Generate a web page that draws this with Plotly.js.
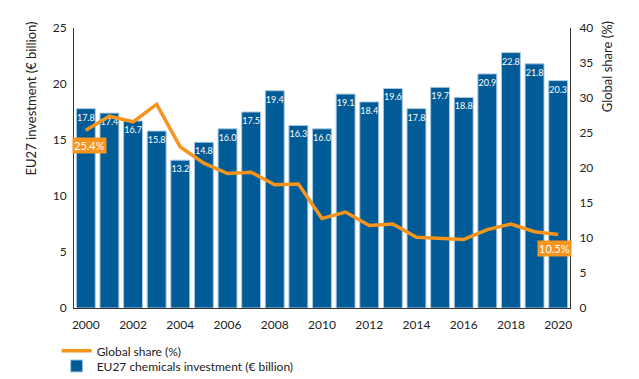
<!DOCTYPE html>
<html>
<head>
<meta charset="utf-8">
<script src="https://cdn.plot.ly/plotly-3.0.1.min.js"></script>
<style>html,body{margin:0;padding:0;background:#fff}#chart{width:639px;height:379px}</style>
</head>
<body>
<div id="chart"></div>
<script>
const years = [2000,2001,2002,2003,2004,2005,2006,2007,2008,2009,2010,2011,2012,2013,2014,2015,2016,2017,2018,2019,2020];
const investment = [17.8,17.4,16.7,15.8,13.2,14.8,16.0,17.5,19.4,16.3,16.0,19.1,18.4,19.6,17.8,19.7,18.8,20.9,22.8,21.8,20.3];
const globalShare = [25.4,27.4,26.6,29.1,23.0,20.7,19.2,19.4,17.6,17.7,12.8,13.7,11.8,12.0,10.1,10.0,9.8,11.2,12.0,10.9,10.5];
const xTicks = [2000,2002,2004,2006,2008,2010,2012,2014,2016,2018,2020];
const leftTicks = [0,5,10,15,20,25];
const rightTicks = [0,5,10,15,20,25,30,35,40];

const BLUE = '#005b96';
const ORANGE = '#f7941d';
const FONT = 'Lato, "Open Sans", sans-serif';

const barTrace = {
  type: 'bar', x: years, y: investment, name: 'EU27 chemicals investment (€ billion)',
  marker: {color: BLUE, line: {color: '#a9c8e3', width: 1}},
  text: investment.map(v => v.toFixed(1)),
  textposition: 'inside', insidetextanchor: 'end', textangle: 0, constraintext: 'none',
  textfont: {family: 'Lato, sans-serif', size: 9, color: '#ffffff'},
  hoverinfo: 'skip', legend: 'legend2'
};
const lineTrace = {
  type: 'scatter', mode: 'lines', x: years, y: globalShare, yaxis: 'y2',
  name: 'Global share (%)', line: {color: ORANGE, width: 3.5}, legend: 'legend'
};

const first = 0, last = globalShare.length - 1;
const layout = {
  width: 639, height: 379,
  margin: {l: 74, r: 69, t: 28, b: 71, autoexpand: false},
  paper_bgcolor: '#fff', plot_bgcolor: '#fff',
  font: {family: FONT, size: 12, color: '#222'},
  bargap: 0.2,
  showlegend: true,
  xaxis: {
    range: [1999.5, 2020.5], tickvals: xTicks, ticktext: xTicks.map(String),
    showgrid: false, zeroline: false, showline: true, linecolor: '#333', linewidth: 1,
    ticks: '', ticklabelstandoff: 6, tickfont: {size: 12, color: '#222'}
  },
  yaxis: {
    range: [0, 25], tickvals: leftTicks, showgrid: false, zeroline: false,
    showline: true, linecolor: '#333', linewidth: 1, ticks: '', ticklabelstandoff: 4,
    tickfont: {size: 12, color: '#222'}
  },
  yaxis2: {
    range: [0, 40], tickvals: rightTicks, overlaying: 'y', side: 'right',
    showgrid: false, zeroline: false, showline: true, linecolor: '#333', linewidth: 1,
    ticks: '', ticklabelstandoff: 6, tickfont: {size: 12, color: '#222'}
  },
  legend: {x: -0.035, xanchor: 'left', y: -0.153, yanchor: 'middle', orientation: 'v',
    font: {size: 12, color: '#222'}, bgcolor: 'rgba(0,0,0,0)', itemwidth: 30},
  legend2: {x: -0.035, xanchor: 'left', y: -0.207, yanchor: 'middle', orientation: 'v',
    font: {size: 12, color: '#222'}, bgcolor: 'rgba(0,0,0,0)', itemwidth: 30},
  annotations: [
    {xref: 'paper', yref: 'paper', x: -0.087, y: 1.03, xanchor: 'center', yanchor: 'top',
     text: 'EU27 investment (€ billion)', textangle: -90, showarrow: false,
     font: {size: 13, color: '#222'}},
    {xref: 'paper', yref: 'paper', x: 1.075, y: 1.03, xanchor: 'center', yanchor: 'top',
     text: 'Global share (%)', textangle: -90, showarrow: false,
     font: {size: 13, color: '#222'}},
    {x: years[first], y: globalShare[first], yref: 'y2', text: globalShare[first].toFixed(1) + '%',
     showarrow: true, arrowcolor: 'rgba(0,0,0,0)', ax: 4, ay: 15, bgcolor: ORANGE,
     font: {size: 11, color: '#fff'}, borderpad: 1},
    {x: years[last], y: globalShare[last], yref: 'y2', text: globalShare[last].toFixed(1) + '%',
     showarrow: true, arrowcolor: 'rgba(0,0,0,0)', ax: -4, ay: 14, bgcolor: ORANGE,
     font: {size: 11, color: '#fff'}, borderpad: 1}
  ]
};
Plotly.newPlot('chart', [lineTrace, barTrace], layout, {displayModeBar: false, staticPlot: true});
</script>
</body>
</html>
